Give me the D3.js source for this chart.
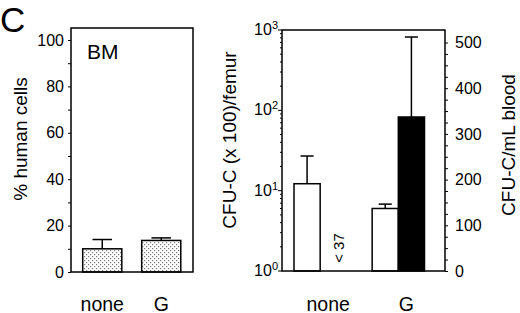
<!DOCTYPE html>
<html><head><meta charset="utf-8">
<script src="https://cdn.jsdelivr.net/npm/d3@7"></script>
<style>
body{margin:0;background:#fff;}
svg{display:block;font-family:"Liberation Sans",Arial,Helvetica,sans-serif;}
</style></head>
<body><svg id="c" width="520" height="313"></svg>
<script>
// ---- data ----
const categories = ["none", "G"];
const bmValues = [10.0, 13.6];          // % human cells (BM)
const bmErrTop = [14.0, 14.7];
const femurValues = [12.2, 6.0];       // CFU-C (x100)/femur, log scale
const femurErrTop = [27, 6.8];
const bloodValues = [null, 337];       // CFU-C/mL blood, linear right axis
const bloodErrTop = [null, 512];
const bmTicks = [0, 20, 40, 60, 80, 100];
const logTicks = [0, 1, 2, 3];          // exponents of 10
const bloodTicks = [0, 100, 200, 300, 400, 500];
const missingLabel = "< 37";

const svg = d3.select("#c");
const ink = "#000";

const defs = svg.append("defs");
const pat = defs.append("pattern").attr("id","dots").attr("patternUnits","userSpaceOnUse")
  .attr("width",4).attr("height",4);
pat.append("rect").attr("width",4).attr("height",4).attr("fill","#fff");
pat.append("rect").attr("x",0).attr("y",0).attr("width",1.2).attr("height",1.2).attr("fill","#777");
pat.append("rect").attr("x",2).attr("y",2).attr("width",1.2).attr("height",1.2).attr("fill","#777");

svg.append("text").attr("x",0).attr("y",32).attr("font-size",35).text("C");

// ---------- Left panel ----------
const L = {x0:71, x1:193, yTop:28, yBot:272};
const yL = d3.scaleLinear().domain([0,100]).range([L.yBot, 40]);
const xL = d3.scaleBand().domain(categories).range([82.7, 180.8]).paddingInner(0.337).paddingOuter(0);

const gL = svg.append("g");
gL.selectAll("rect.bar").data(categories).join("rect")
  .attr("x", d=>xL(d)).attr("width", xL.bandwidth())
  .attr("y", (d,i)=>yL(bmValues[i])).attr("height",(d,i)=>yL(0)-yL(bmValues[i]))
  .attr("fill","url(#dots)").attr("stroke",ink).attr("stroke-width",1.5);
categories.forEach((d,i)=>{
  const cx = xL(d)+xL.bandwidth()/2, cw = xL.bandwidth()/4;
  gL.append("line").attr("x1",cx).attr("x2",cx).attr("y1",yL(bmValues[i])).attr("y2",yL(bmErrTop[i])).attr("stroke",ink).attr("stroke-width",1.5);
  gL.append("line").attr("x1",cx-cw).attr("x2",cx+cw).attr("y1",yL(bmErrTop[i])).attr("y2",yL(bmErrTop[i])).attr("stroke",ink).attr("stroke-width",1.5);
});
gL.append("rect").attr("x",L.x0).attr("y",L.yTop).attr("width",L.x1-L.x0).attr("height",L.yBot-L.yTop)
  .attr("fill","none").attr("stroke",ink).attr("stroke-width",1.5);
const axL = gL.append("g").attr("transform",`translate(${L.x0},0)`)
  .call(d3.axisLeft(yL).tickValues(d3.range(0,101,10)).tickSize(3).tickFormat(d=>bmTicks.includes(d)?d:""));
axL.select(".domain").remove();
axL.selectAll(".tick line").attr("stroke",ink).attr("stroke-width",1);
axL.selectAll(".tick text").attr("font-size",16).attr("font-family","Liberation Sans, Arial").attr("fill",ink).attr("x",-7);
gL.append("text").attr("x",87).attr("y",59).attr("font-size",21).text("BM");
gL.append("text").attr("transform",`translate(27,139) rotate(-90)`).attr("text-anchor","middle").attr("font-size",19).text("% human cells");
categories.forEach(d=>{
  gL.append("text").attr("x",xL(d)+xL.bandwidth()/2).attr("y",310.5).attr("text-anchor","middle").attr("font-size",19.5).text(d);
});

// ---------- Right panel ----------
const R = {x0:282, x1:445, yTop:30, yBot:271};
const yLog = d3.scaleLog().domain([1,1000]).range([R.yBot, R.yTop]);
const yLin = d3.scaleLinear().domain([0,500]).range([R.yBot, 42.5]);
const xR = d3.scaleBand().domain(categories).range([294, 424.5]).paddingInner(0.33).paddingOuter(0);
const xS = d3.scaleBand().domain(["femur","blood"]).range([0, xR.bandwidth()]);

const gR = svg.append("g");
categories.forEach((d,i)=>{
  const xf = xR(d)+xS("femur"), xb = xR(d)+xS("blood"), w = xS.bandwidth();
  gR.append("rect").attr("x",xf).attr("width",w).attr("y",yLog(femurValues[i])).attr("height",yLog(1)-yLog(femurValues[i]))
    .attr("fill","#fff").attr("stroke",ink).attr("stroke-width",1.5);
  const cf = xf+w/2;
  gR.append("line").attr("x1",cf).attr("x2",cf).attr("y1",yLog(femurValues[i])).attr("y2",yLog(femurErrTop[i])).attr("stroke",ink).attr("stroke-width",1.5);
  gR.append("line").attr("x1",cf-w/4).attr("x2",cf+w/4).attr("y1",yLog(femurErrTop[i])).attr("y2",yLog(femurErrTop[i])).attr("stroke",ink).attr("stroke-width",1.5);
  if (bloodValues[i] != null) {
    gR.append("rect").attr("x",xb).attr("width",w).attr("y",yLin(bloodValues[i])).attr("height",yLin(0)-yLin(bloodValues[i]))
      .attr("fill",ink).attr("stroke",ink).attr("stroke-width",1.5);
    const cb = xb+w/2;
    gR.append("line").attr("x1",cb).attr("x2",cb).attr("y1",yLin(bloodValues[i])).attr("y2",yLin(bloodErrTop[i])).attr("stroke",ink).attr("stroke-width",1.5);
    gR.append("line").attr("x1",cb-w/4).attr("x2",cb+w/4).attr("y1",yLin(bloodErrTop[i])).attr("y2",yLin(bloodErrTop[i])).attr("stroke",ink).attr("stroke-width",1.5);
  } else {
    const cb = xb+w/2+6;
    gR.append("text").attr("transform",`translate(${cb+5},248) rotate(-90)`).attr("text-anchor","middle").attr("font-size",15).text(missingLabel);
  }
});
gR.append("rect").attr("x",R.x0).attr("y",R.yTop).attr("width",R.x1-R.x0).attr("height",R.yBot-R.yTop)
  .attr("fill","none").attr("stroke",ink).attr("stroke-width",1.5);
const minor = [];
for (let e=0;e<3;e++) for (let k=2;k<=9;k++) minor.push(k*Math.pow(10,e));
gR.selectAll("line.mn").data(minor).join("line")
  .attr("x1",R.x0).attr("x2",R.x0-2).attr("y1",d=>yLog(d)).attr("y2",d=>yLog(d)).attr("stroke",ink).attr("stroke-width",1);
logTicks.forEach(e=>{
  const y = yLog(Math.pow(10,e));
  gR.append("line").attr("x1",R.x0).attr("x2",R.x0-4).attr("y1",y).attr("y2",y).attr("stroke",ink).attr("stroke-width",1);
  const t = gR.append("text").attr("x",R.x0-4).attr("y",y+5).attr("text-anchor","end").attr("font-size",16);
  t.append("tspan").text("10");
  t.append("tspan").attr("dy",-6).attr("font-size",11).text(e);
});
const axR = gR.append("g").attr("transform",`translate(${R.x1},0)`)
  .call(d3.axisRight(yLin).tickValues(d3.range(0,501,25)).tickSize(3).tickFormat(d=>bloodTicks.includes(d)?d:""));
axR.select(".domain").remove();
axR.selectAll(".tick line").attr("stroke",ink).attr("stroke-width",1);
axR.selectAll(".tick text").attr("font-size",16).attr("font-family","Liberation Sans, Arial").attr("fill",ink).attr("x",10);
gR.append("text").attr("transform",`translate(236,140) rotate(-90)`).attr("text-anchor","middle").attr("font-size",19).text("CFU-C (x 100)/femur");
gR.append("text").attr("transform",`translate(515,145) rotate(-90)`).attr("text-anchor","middle").attr("font-size",19).text("CFU-C/mL blood");
categories.forEach(d=>{
  gR.append("text").attr("x",xR(d)+xR.bandwidth()/2+8).attr("y",310.5).attr("text-anchor","middle").attr("font-size",19.5).text(d);
});
</script></body></html>
